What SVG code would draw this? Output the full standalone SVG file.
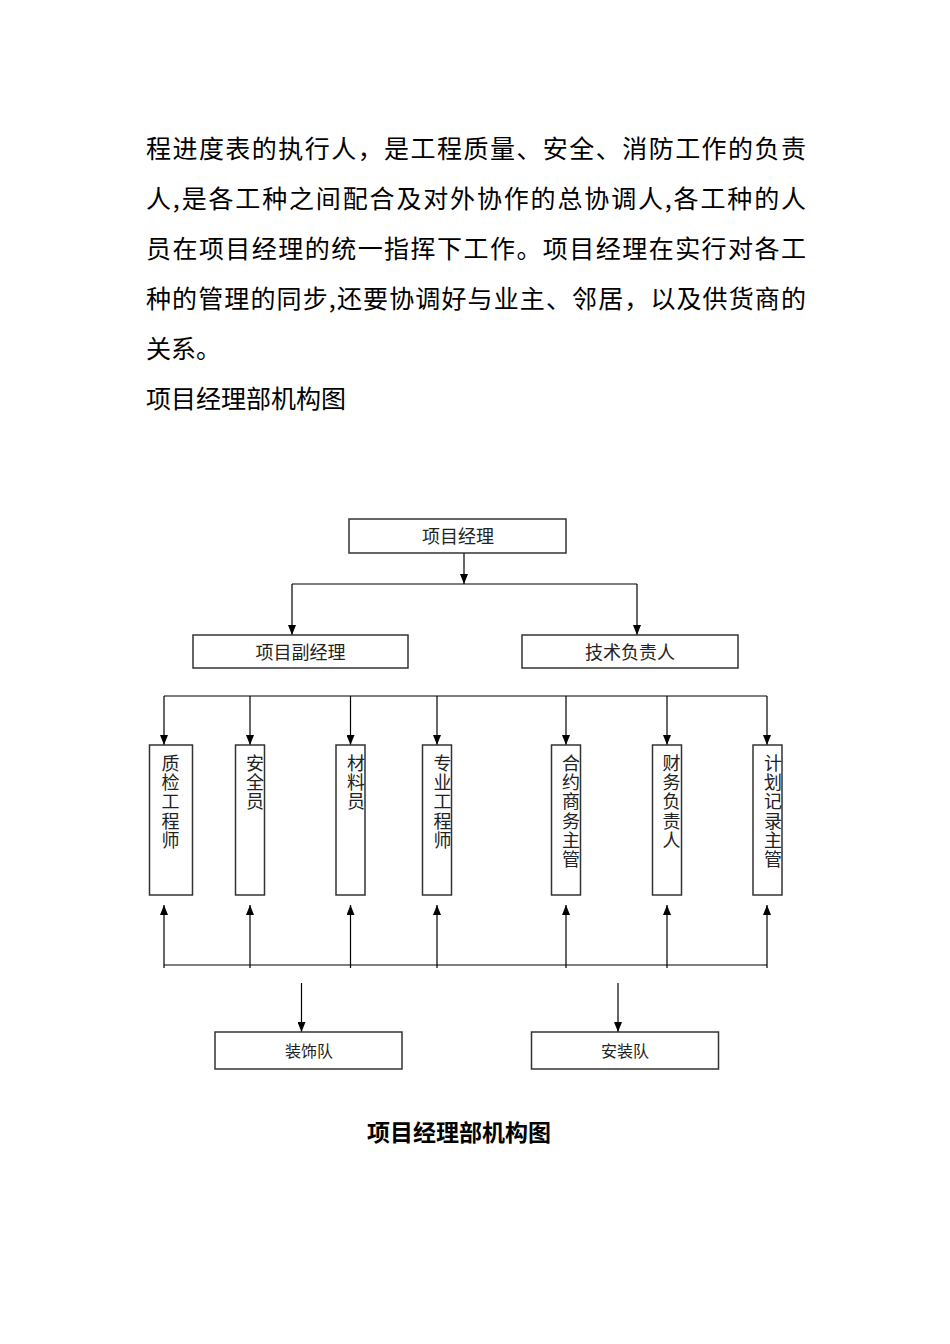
<svg xmlns="http://www.w3.org/2000/svg" width="950" height="1344" viewBox="0 0 950 1344">
<style>
  .body { font-family: "Noto Sans CJK SC", "Liberation Serif", serif; font-size: 25px; fill: #000; }
  .box { fill: #fff; stroke: #333; stroke-width: 1.5; }
  .lbl { font-family: "Noto Sans CJK SC", "Liberation Sans", sans-serif; font-size: 18px; fill: #222; text-anchor: middle; }
  .vlbl { font-family: "Noto Sans CJK SC", "Liberation Sans", sans-serif; font-size: 18px; fill: #222; writing-mode: vertical-rl; text-orientation: upright; letter-spacing: 1.3px; }
  .lbl16 { font-family: "Noto Sans CJK SC", "Liberation Sans", sans-serif; font-size: 16px; fill: #222; text-anchor: middle; }
  .cap { font-family: "Noto Sans CJK SC", "Liberation Sans", sans-serif; font-size: 23px; font-weight: bold; fill: #000; text-anchor: middle; }
  .conn { fill: none; stroke: #000; stroke-width: 1.2; }
</style>
<defs>
  <marker id="arr" markerUnits="userSpaceOnUse" markerWidth="10" markerHeight="8" refX="10" refY="4" orient="auto">
    <path d="M0,0 L10,4 L0,8 z" fill="#000"/>
  </marker>
</defs>
<rect width="950" height="1344" fill="#fff"/>

<g id="body-text">
  <text class="body" x="146" y="157.5" textLength="660" lengthAdjust="spacing">程进度表的执行人，是工程质量、安全、消防工作的负责</text>
  <text class="body" x="146" y="207.5" textLength="660" lengthAdjust="spacing">人,是各工种之间配合及对外协作的总协调人,各工种的人</text>
  <text class="body" x="146" y="257.5" textLength="660" lengthAdjust="spacing">员在项目经理的统一指挥下工作。项目经理在实行对各工</text>
  <text class="body" x="146" y="307.5" textLength="660" lengthAdjust="spacing">种的管理的同步,还要协调好与业主、邻居，以及供货商的</text>
  <text class="body" x="146" y="357.5">关系。</text>
  <text class="body" x="146" y="407.5">项目经理部机构图</text>
</g>

<g id="connectors">
  <path class="conn" d="M464,553 V584" marker-end="url(#arr)"/>
  <path class="conn" d="M292,584 H637"/>
  <path class="conn" d="M292,584 V635" marker-end="url(#arr)"/>
  <path class="conn" d="M637,584 V635" marker-end="url(#arr)"/>
  <path class="conn" d="M164,696 H767"/>
  <path class="conn" d="M164,696 V745" marker-end="url(#arr)"/>
  <path class="conn" d="M250,696 V745" marker-end="url(#arr)"/>
  <path class="conn" d="M350.5,696 V745" marker-end="url(#arr)"/>
  <path class="conn" d="M437,696 V745" marker-end="url(#arr)"/>
  <path class="conn" d="M566,696 V745" marker-end="url(#arr)"/>
  <path class="conn" d="M667,696 V745" marker-end="url(#arr)"/>
  <path class="conn" d="M767,696 V745" marker-end="url(#arr)"/>
  <path class="conn" d="M164,965 H767"/>
  <path class="conn" d="M164,968 V905" marker-end="url(#arr)"/>
  <path class="conn" d="M250,968 V905" marker-end="url(#arr)"/>
  <path class="conn" d="M350.5,968 V905" marker-end="url(#arr)"/>
  <path class="conn" d="M437,968 V905" marker-end="url(#arr)"/>
  <path class="conn" d="M566,968 V905" marker-end="url(#arr)"/>
  <path class="conn" d="M667,968 V905" marker-end="url(#arr)"/>
  <path class="conn" d="M767,968 V905" marker-end="url(#arr)"/>
  <path class="conn" d="M301.5,983 V1032" marker-end="url(#arr)"/>
  <path class="conn" d="M618,983 V1032" marker-end="url(#arr)"/>
</g>

<g id="pm">
  <rect class="box" x="349" y="519" width="217" height="34"/>
  <text class="lbl" x="458" y="543">项目经理</text>
</g>
<g id="deputy-pm">
  <rect class="box" x="193" y="635" width="215" height="33"/>
  <text class="lbl" x="300.5" y="658.5">项目副经理</text>
</g>
<g id="tech-lead">
  <rect class="box" x="522" y="635" width="216" height="33"/>
  <text class="lbl" x="630" y="658.5">技术负责人</text>
</g>

<g id="qc-engineer">
  <rect class="box" x="149.5" y="745" width="43" height="150"/>
  <text class="vlbl" x="170.5" y="754">质检工程师</text>
</g>
<g id="safety-officer">
  <rect class="box" x="235.5" y="745" width="29" height="150"/>
  <text class="vlbl" x="255" y="754">安全员</text>
</g>
<g id="materials-officer">
  <rect class="box" x="336" y="745" width="29" height="150"/>
  <text class="vlbl" x="356" y="754">材料员</text>
</g>
<g id="specialist-engineer">
  <rect class="box" x="422.5" y="745" width="29" height="150"/>
  <text class="vlbl" x="442.5" y="754">专业工程师</text>
</g>
<g id="contracts-manager">
  <rect class="box" x="551.5" y="745" width="29" height="150"/>
  <text class="vlbl" x="571" y="754">合约商务主管</text>
</g>
<g id="finance-lead">
  <rect class="box" x="652.5" y="745" width="29" height="150"/>
  <text class="vlbl" x="671.5" y="754">财务负责人</text>
</g>
<g id="planning-manager">
  <rect class="box" x="753" y="745" width="29" height="150"/>
  <text class="vlbl" x="773" y="754">计划记录主管</text>
</g>

<g id="decoration-team">
  <rect class="box" x="215" y="1032" width="187" height="37"/>
  <text class="lbl16" x="309" y="1056.5">装饰队</text>
</g>
<g id="installation-team">
  <rect class="box" x="531.5" y="1032" width="187" height="37"/>
  <text class="lbl16" x="625" y="1056.5">安装队</text>
</g>

<g id="caption">
  <text class="cap" x="459" y="1141">项目经理部机构图</text>
</g>
</svg>
